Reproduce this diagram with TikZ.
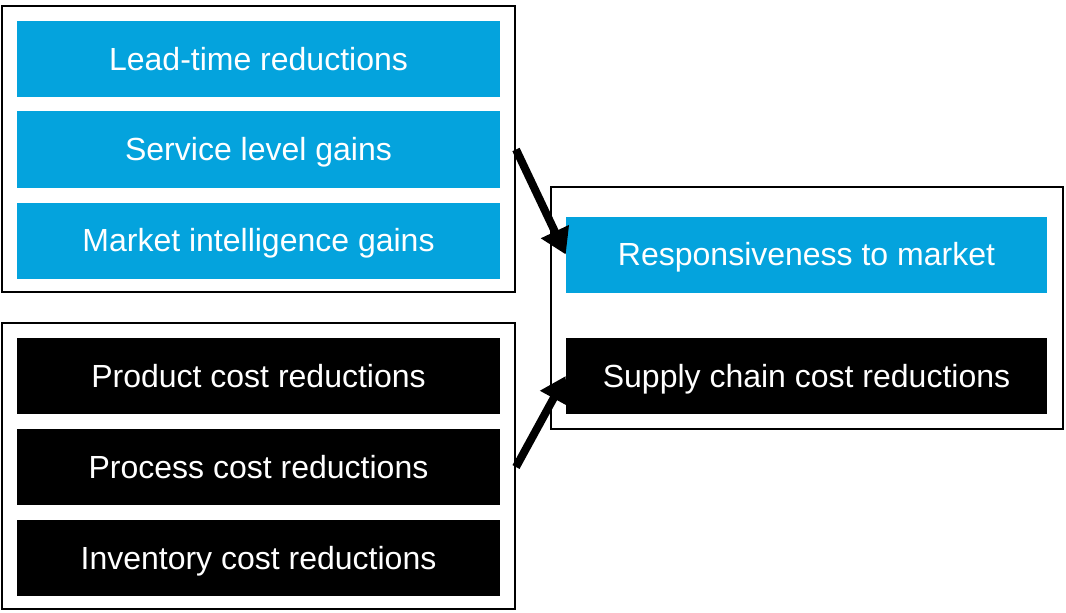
\documentclass[tikz,border=0pt]{standalone}
\usepackage{fontspec}
\setmainfont{Liberation Sans}
\usetikzlibrary{arrows.meta}
\definecolor{mblue}{HTML}{04A3DD}
\begin{document}
\begin{tikzpicture}[x=0.75pt,y=-0.75pt,
  boxtext/.style={text=white,inner sep=0pt,minimum width=362.25pt,minimum height=57pt,text height=17.2pt,text depth=0pt,font=\fontsize{24}{26}\selectfont},
  bluebox/.style={boxtext,fill=mblue},
  blackbox/.style={boxtext,fill=black},
  frame/.style={draw=black,line width=1.5pt,inner sep=0pt},
  bigarrow/.style={line width=6pt,-{Triangle[length=19pt,width=22pt]}}
]
\useasboundingbox (0,0) rectangle (1066,613);
% left top group
\node[frame,minimum width=384.75pt,minimum height=214.5pt] (g1) at (258.5,149) {};
\node[bluebox] (lt) at (258.5,59.5) {Lead-time reductions};
\node[bluebox] (sl) at (258.5,149.5) {Service level gains};
\node[bluebox] (mi) at (258.5,240.5) {Market intelligence gains};
% left bottom group
\node[frame,minimum width=384.75pt,minimum height=214.5pt] (g2) at (258.5,466) {};
\node[blackbox] (pc) at (258.5,376) {Product cost reductions};
\node[blackbox] (prc) at (258.5,467) {Process cost reductions};
\node[blackbox] (ic) at (258.5,558) {Inventory cost reductions};
% right group
\node[frame,minimum width=384pt,minimum height=181.5pt] (g3) at (807,308) {};
\node[bluebox,minimum width=360.75pt] (rm) at (806.5,254.5) {Responsiveness to market};
\node[blackbox,minimum width=360.75pt] (sc) at (806.5,376) {Supply chain cost reductions};
% arrows
\coordinate (a1) at (g1.east |- sl.east);
\coordinate (a2) at (g2.east |- prc.east);
\draw[bigarrow] (a1) -- (rm.west);
\draw[bigarrow] (a2) -- (sc.west);
\end{tikzpicture}
\end{document}
